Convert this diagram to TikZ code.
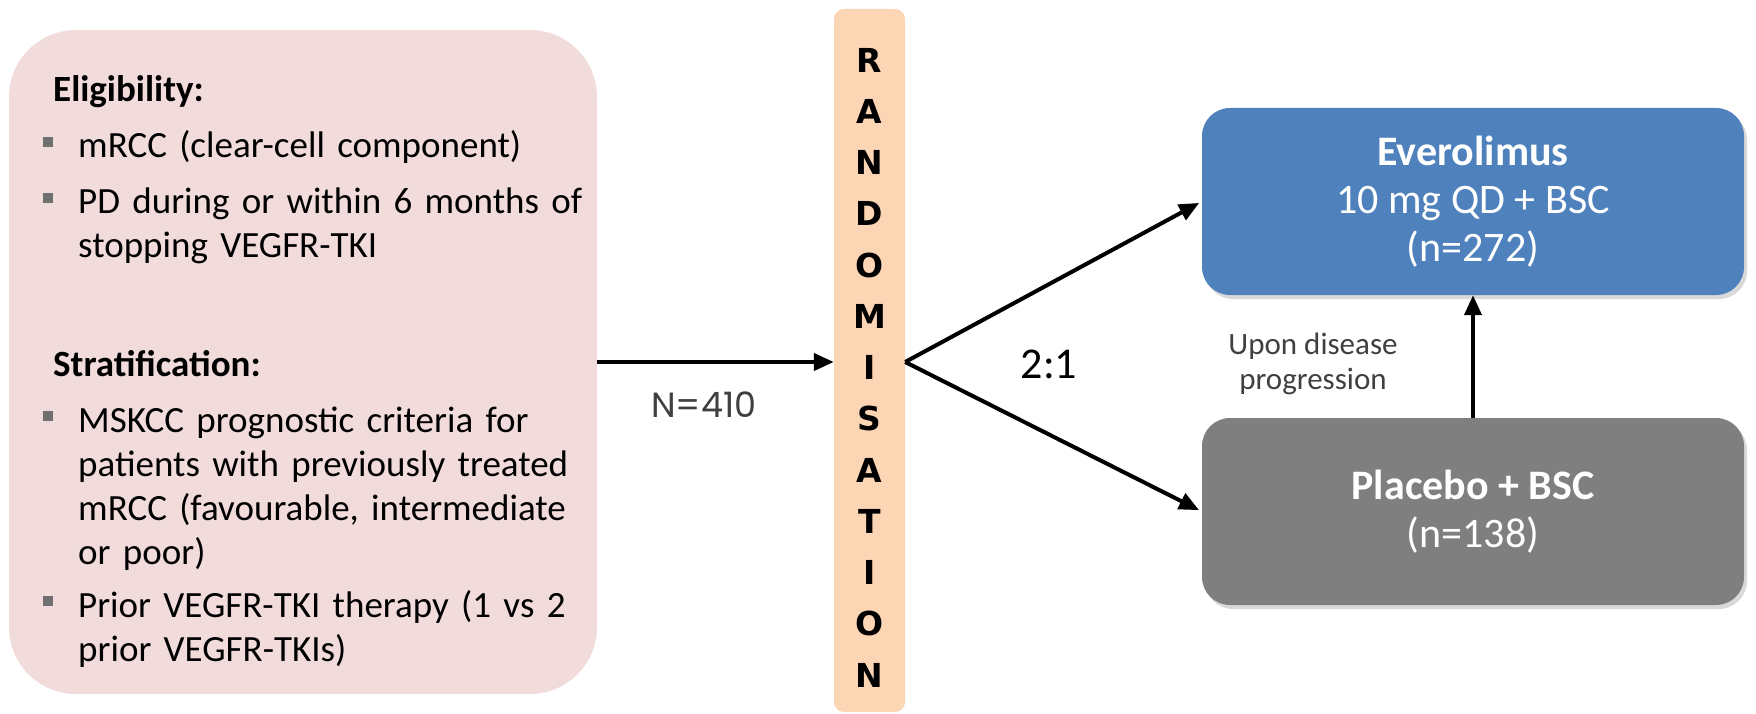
\documentclass[tikz,border=0pt]{standalone}
\usepackage{fontspec}
\setmainfont{Carlito}
\newfontfamily\randfont{DejaVu Sans}
\newfontfamily\numfont{Poppins}
\usetikzlibrary{arrows.meta,shadows,positioning}

\definecolor{pinkfill}{HTML}{F2DCDB}
\definecolor{barfill}{HTML}{FCD5B5}
\definecolor{evblue}{HTML}{4F81BD}
\definecolor{plgray}{HTML}{7F7F7F}
\definecolor{textgray}{HTML}{404040}
\definecolor{bulletgray}{HTML}{6F6F6F}

\newcommand{\sqbullet}{\leavevmode\llap{\textcolor{bulletgray}{\rule[11pt]{10pt}{10pt}}\hspace{25pt}}}

\begin{document}
\begin{tikzpicture}[x=1pt,y=-1pt,
    txt/.style={font=\fontsize{37}{44}\selectfont, inner sep=0pt},
    item/.style={txt, anchor=base west, text width=515pt, align=left},
    heading/.style={txt, anchor=base west, font=\fontsize{37}{44}\selectfont\bfseries},
    arm/.style={rounded corners=28pt, minimum width=542pt, minimum height=187pt,
      text=white, align=center, font=\fontsize{42}{48}\selectfont,
      drop shadow={shadow xshift=3pt, shadow yshift=-4pt, opacity=0.3}},
    link/.style={line width=4pt, -{Triangle[length=20pt,width=17pt]}}]
    \useasboundingbox (0,0) rectangle (1756,714);

    \node[rounded corners=67pt, fill=pinkfill, minimum width=588pt, minimum height=664pt] (elig) at (303,362) {};
    \node[heading] (eligh) at (53,102) {Eligibility:};
    \node[item] (crit1) at (78,158) {\sqbullet mRCC (clear-cell component)};
    \node[item] (crit2) at (78,214) {\sqbullet PD during or within 6 months of\\stopping VEGFR-TKI};
    \node[heading] (strath) at (53,376) {Stratification:};
    \node[item] (strat1) at (78,432) {\sqbullet MSKCC prognostic criteria for\\patients with previously treated\\mRCC (favourable, intermediate\\or poor)};
    \node[item] (strat2) at (78,617) {\sqbullet Prior VEGFR-TKI therapy (1 vs 2\\prior VEGFR-TKIs)};

    \node[rounded corners=10pt, fill=barfill, minimum width=71pt, minimum height=703pt] (rand) at (869.5,360.5) {};
    \foreach \ch [count=\i from 0] in {R,A,N,D,O,M,I,S,A,T,I,O,N}
      \node[font=\randfont\bfseries\fontsize{33}{38}\selectfont, inner sep=0pt] (rand\i) at (869.5,60+51.25*\i) {\ch};

    \node[arm, fill=evblue] (ever) at (1473,201.5) {{\bfseries Everolimus}\\10 mg QD + BSC\\(n=272)};
    \node[arm, fill=plgray] (plac) at (1473,511.5) {{\bfseries Placebo + BSC}\\(n=138)};

    \coordinate (split) at (rand.east |- elig.east);
    \draw[link] (elig.east) -- (elig.east -| rand.west)
      node[pos=0.45, below=24pt, font=\numfont\fontsize{35}{40}\selectfont, text=textgray] (total) {N=410};
    \draw[link, shorten >=3pt] (split) -- (ever.west);
    \draw[link, shorten >=3pt] (split) -- (plac.west);
    \node[font=\fontsize{44}{50}\selectfont] (ratio) at (1049,364) {2:1};

    \draw[link] (plac.north) -- (ever.south);
    \node[font=\fontsize{31}{35}\selectfont, text=textgray, align=center] (cross) at (1313,364) {Upon disease\\progression};
  \end{tikzpicture}
\end{document}
